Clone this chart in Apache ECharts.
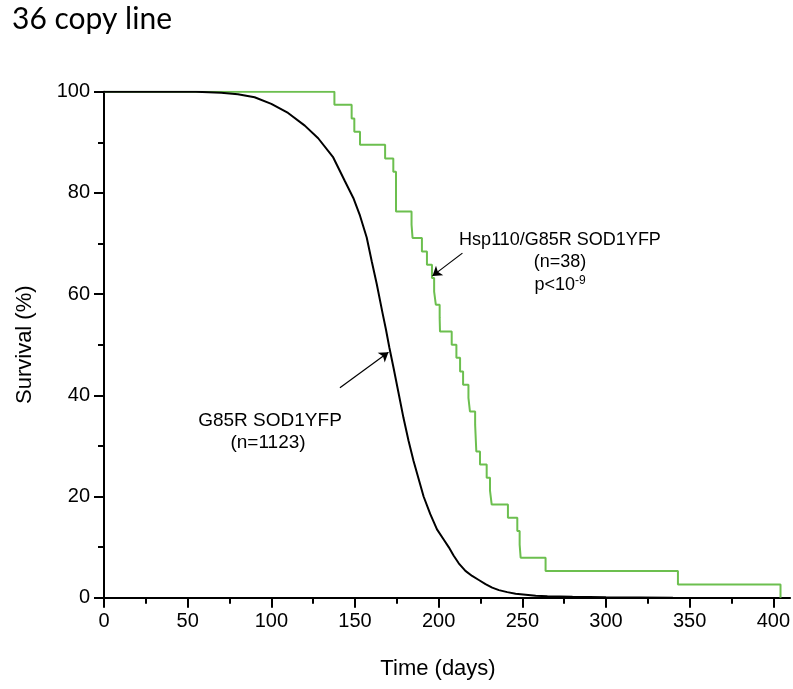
<!DOCTYPE html>
<html>
<head>
<meta charset="utf-8">
<script src="https://cdn.jsdelivr.net/npm/echarts@6/dist/echarts.min.js"></script>
<style>
html,body{margin:0;padding:0;background:#fff;}
#c{width:793px;height:689px;}
</style>
</head>
<body>
<div id="c"></div>
<script>
// Green: Hsp110/G85R SOD1YFP (n=38), Kaplan-Meier steps
var greenDays = [0, 137.7, 148, 149.6, 153, 168, 172.9, 174.5, 183.8, 184.4, 190, 193, 196, 197.3, 198.3, 200.6, 200.8, 207.8, 210.6, 212.8, 214.6, 217.8, 218.7, 221.8, 222.5, 224.7, 228.7, 230.7, 231.7, 241.4, 247, 248.4, 249, 263.9, 343, 404.3];
var greenSurv = [100, 97.4, 94.7, 92.1, 89.5, 86.8, 84.2, 76.3, 73.7, 71.1, 68.4, 65.8, 63.2, 60.5, 57.9, 55.3, 52.6, 50.0, 47.4, 44.7, 42.1, 39.5, 36.8, 34.2, 28.9, 26.3, 23.7, 21.1, 18.4, 15.8, 13.2, 10.5, 7.9, 5.3, 2.6, 0];

// Black: G85R SOD1YFP (n=1123)
var blackDays = [0, 55, 70, 80, 90, 100, 110, 120, 128, 137, 144, 149, 153, 157, 160, 163, 166.5, 168.5, 170.5, 173, 176, 179, 182, 185, 188, 191, 195, 199, 203, 206, 209, 212, 216, 220, 224, 228, 232, 236, 241, 246, 252, 258, 265, 280, 300, 340];
var blackSurv = [100, 100, 99.8, 99.5, 98.9, 97.6, 95.8, 93.3, 90.8, 87, 82.3, 79, 75.5, 71.2, 66.5, 62, 56.2, 53, 49.5, 45.5, 40.5, 35.5, 31, 27, 23.5, 20, 16.5, 13.5, 11.5, 10, 8.3, 6.8, 5.3, 4.3, 3.5, 2.7, 2.0, 1.5, 1.1, 0.8, 0.6, 0.4, 0.3, 0.2, 0.1, 0];

var xMajorTicks = [0, 50, 100, 150, 200, 250, 300, 350, 400];
var xMinorTicks = [25, 75, 125, 175, 225, 275, 325, 375];

// Annotation arrows [start, tip] in data units
var greenArrow = [[214.2, 68.1], [196.3, 63.6]];
var blackArrow = [[141, 41.5], [170, 48.5]];

function pairs(xs, ys){ return xs.map(function(x,i){ return [x, ys[i]]; }); }

var FONT = 'Liberation Sans, Arial, sans-serif';
var chart = echarts.init(document.getElementById('c'), null, {renderer:'canvas'});
chart.setOption({
  animation: false,
  backgroundColor: '#fff',
  grid: {left: 104, top: 91.7, right: 1.2, bottom: 91.3, containLabel: false},
  xAxis: [{
    type: 'value', min: 0, max: 410,
    name: 'Time (days)', nameLocation: 'middle', nameGap: 60,
    nameTextStyle: {fontFamily: FONT, fontSize: 22, color: '#000', padding: [0, 18, 0, 0]},
    axisLine: {show: true, lineStyle: {color: '#000', width: 2}},
    axisTick: {show: true, inside: false, length: 10, lineStyle: {color: '#000', width: 2}, customValues: xMajorTicks},
    axisLabel: {fontFamily: FONT, fontSize: 20, color: '#000', margin: 14, customValues: xMajorTicks},
    splitLine: {show: false}
  }, {
    type: 'value', min: 0, max: 410, position: 'bottom',
    axisLine: {show: false},
    axisTick: {show: true, length: 6, lineStyle: {color: '#000', width: 2}, customValues: xMinorTicks},
    axisLabel: {show: false},
    splitLine: {show: false}
  }],
  yAxis: {
    type: 'value', min: 0, max: 100, interval: 20,
    name: 'Survival (%)', nameLocation: 'middle', nameGap: 68,
    nameTextStyle: {fontFamily: FONT, fontSize: 22, color: '#000'},
    axisLine: {show: true, lineStyle: {color: '#000', width: 2}},
    axisTick: {show: true, length: 10, lineStyle: {color: '#000', width: 2}},
    minorTick: {show: true, splitNumber: 2, length: 6, lineStyle: {color: '#000', width: 2}},
    axisLabel: {fontFamily: FONT, fontSize: 20, color: '#000', margin: 14},
    splitLine: {show: false}
  },
  series: [{
    type: 'line', name: 'G85R SOD1YFP', data: pairs(blackDays, blackSurv),
    showSymbol: false, symbol: 'none',
    lineStyle: {color: '#000', width: 2},
    z: 3,
    markLine: {
      silent: true, symbol: ['none', 'arrow'], symbolSize: 9,
      lineStyle: {color: '#000', width: 1.2, type: 'solid'},
      label: {show: false},
      data: [[{coord: blackArrow[0]}, {coord: blackArrow[1]}]]
    }
  }, {
    type: 'line', name: 'Hsp110/G85R SOD1YFP', data: pairs(greenDays, greenSurv),
    step: 'end', showSymbol: false, symbol: 'none',
    lineStyle: {color: '#6cbf4f', width: 2},
    z: 2,
    markLine: {
      silent: true, symbol: ['none', 'arrow'], symbolSize: 9,
      lineStyle: {color: '#000', width: 1.2, type: 'solid'},
      label: {show: false},
      data: [[{coord: greenArrow[0]}, {coord: greenArrow[1]}]]
    }
  }],
  graphic: [
    {type: 'text', left: 12, top: 4, style: {text: '36 copy line', font: '30px Lato, "Open Sans", sans-serif', fill: '#000'}},
    {type: 'text', x: 560, y: 240, style: {text: 'Hsp110/G85R SOD1YFP', font: '18px ' + FONT, fill: '#000', textAlign: 'center', textVerticalAlign: 'middle'}},
    {type: 'text', x: 560, y: 262, style: {text: '(n=38)', font: '18px ' + FONT, fill: '#000', textAlign: 'center', textVerticalAlign: 'middle'}},
    {type: 'text', x: 560, y: 285, style: {
      text: 'p<10{sup|-9}', fill: '#000', textAlign: 'center', textVerticalAlign: 'middle',
      fontFamily: FONT, fontSize: 18,
      rich: {sup: {fontFamily: FONT, fontSize: 12, verticalAlign: 'top', padding: [0,0,8,0]}}
    }},
    {type: 'text', x: 270, y: 421, style: {text: 'G85R SOD1YFP', font: '19px ' + FONT, fill: '#000', textAlign: 'center', textVerticalAlign: 'middle'}},
    {type: 'text', x: 268, y: 443, style: {text: '(n=1123)', font: '19px ' + FONT, fill: '#000', textAlign: 'center', textVerticalAlign: 'middle'}}
  ]
});
</script>
</body>
</html>
